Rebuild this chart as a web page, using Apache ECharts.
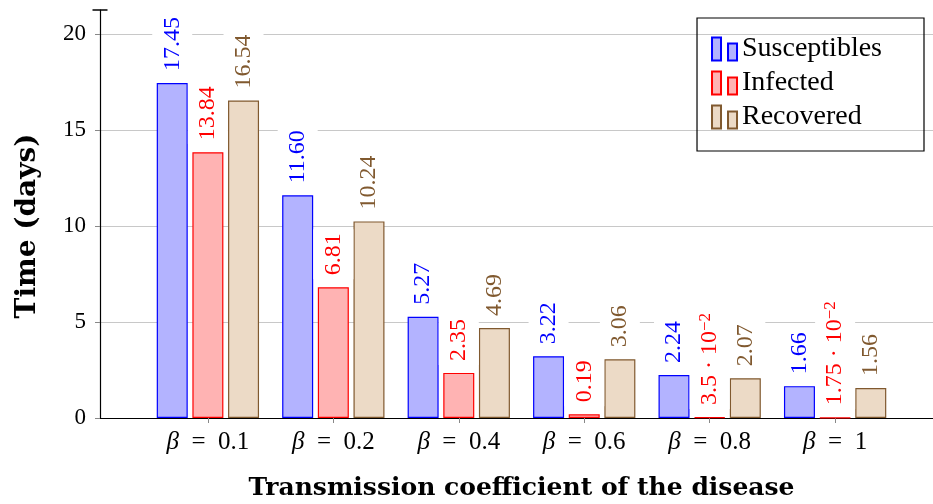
<!DOCTYPE html>
<html>
<head>
<meta charset="utf-8">
<script src="https://cdn.jsdelivr.net/npm/echarts@6/dist/echarts.min.js"></script>
<style>html,body{margin:0;padding:0;background:#fff;}#c{width:933px;height:504px;}</style>
</head>
<body>
<div id="c"></div>
<script>
const categories = ['0.1', '0.2', '0.4', '0.6', '0.8', '1'];
const susceptibles = [17.45, 11.60, 5.27, 3.22, 2.24, 1.66];
const infected = [13.84, 6.81, 2.35, 0.19, 0.035, 0.0175];
const recovered = [16.54, 10.24, 4.69, 3.06, 2.07, 1.56];
const yTicks = [0, 5, 10, 15, 20];
const seriesNames = ['Susceptibles', 'Infected', 'Recovered'];

const FONT = '"Liberation Serif", "DejaVu Serif", serif';
const BFONT = '"DejaVu Serif", "Liberation Serif", serif';
const colors = [
  {fill: '#b3b3ff', line: '#0000ff', text: '#0000ff'},
  {fill: '#ffb3b3', line: '#ff0000', text: '#ff0000'},
  {fill: '#ecdac6', line: '#80592f', text: '#80592f'}
];

function fmt(v) {
  if (v >= 0.1) return '{n|' + v.toFixed(2) + '}';
  const e = Math.floor(Math.log10(v));
  let m = v / Math.pow(10, e);
  m = parseFloat(m.toFixed(2)).toString();
  return '{n|' + m + ' · 10}{s|−' + (-e) + '}';
}

function makeSeries(name, values, c) {
  return {
    name: name,
    type: 'bar',
    barWidth: 31,
    barGap: '15%',
    data: values.map((v, i) => [i, v]),
    itemStyle: {color: c.fill, borderColor: c.line, borderWidth: 1.2},
    label: {
      show: true,
      position: 'top',
      distance: 8,
      rotate: 90,
      align: 'left',
      verticalAlign: 'middle',
      backgroundColor: '#fff',
      padding: [7, 4, 7, 4],
      formatter: p => fmt(p.value[1]),
      rich: {
        n: {fontFamily: FONT, fontSize: 24, color: c.text, lineHeight: 26, verticalAlign: 'middle'},
        s: {fontFamily: FONT, fontSize: 17, color: c.text, lineHeight: 26, verticalAlign: 'top'}
      }
    }
  };
}

const chart = echarts.init(document.getElementById('c'), null, {renderer: 'canvas'});
chart.setOption({
  animation: false,
  backgroundColor: '#fff',
  grid: {left: 100, right: -10, top: 10, bottom: 86, containLabel: false, outerBoundsMode: 'none'},
  legend: {
    orient: 'vertical',
    right: 9,
    top: 18,
    padding: [17, 42, 20, 14],
    borderColor: '#000',
    borderWidth: 1.2,
    itemWidth: 25,
    itemHeight: 23,
    itemGap: 6,
    icon: 'path://M0,0H9V23H0ZM16,6H25V23H16Z',
    textStyle: {fontFamily: FONT, fontSize: 28, lineHeight: 23, color: '#000'},
    data: seriesNames
  },
  xAxis: {
    type: 'value',
    min: -0.86,
    max: 5.86,
    name: 'Transmission coefficient of the disease',
    nameLocation: 'middle',
    nameGap: 58,
    nameTextStyle: {fontFamily: BFONT, fontSize: 25, fontWeight: 'bold', color: '#000'},
    axisLine: {show: true, onZero: false, lineStyle: {color: '#000', width: 1.2}},
    axisTick: {show: true, customValues: [0, 1, 2, 3, 4, 5], length: 5, lineStyle: {color: '#888'}},
    axisLabel: {
      customValues: [0, 1, 2, 3, 4, 5],
      margin: 12,
      formatter: v => '{b|β}{t|\u2002=\u2002' + categories[Math.round(v)] + '}',
      rich: {
        b: {fontFamily: FONT, fontSize: 25, fontStyle: 'italic', color: '#000'},
        t: {fontFamily: FONT, fontSize: 25, color: '#000'}
      }
    },
    splitLine: {show: false}
  },
  yAxis: {
    type: 'value',
    min: 0,
    max: 21.25,
    name: 'Time (days)',
    nameLocation: 'middle',
    nameGap: 58,
    nameTextStyle: {fontFamily: BFONT, fontSize: 28, fontWeight: 'bold', color: '#000', padding: [0, 24, 0, 0]},
    axisLine: {show: true, onZero: false, lineStyle: {color: '#000', width: 1.2}, symbol: ['none', 'rect'], symbolSize: [15, 1.5]},
    axisTick: {show: true, customValues: yTicks, length: 5, lineStyle: {color: '#888'}},
    axisLabel: {customValues: yTicks, margin: 14, fontFamily: FONT, fontSize: 23, color: '#000'},
    splitLine: {show: true, lineStyle: {color: '#c8c8c8', width: 1}}
  },
  series: [
    makeSeries(seriesNames[0], susceptibles, colors[0]),
    makeSeries(seriesNames[1], infected, colors[1]),
    makeSeries(seriesNames[2], recovered, colors[2])
  ]
});
</script>
</body>
</html>
